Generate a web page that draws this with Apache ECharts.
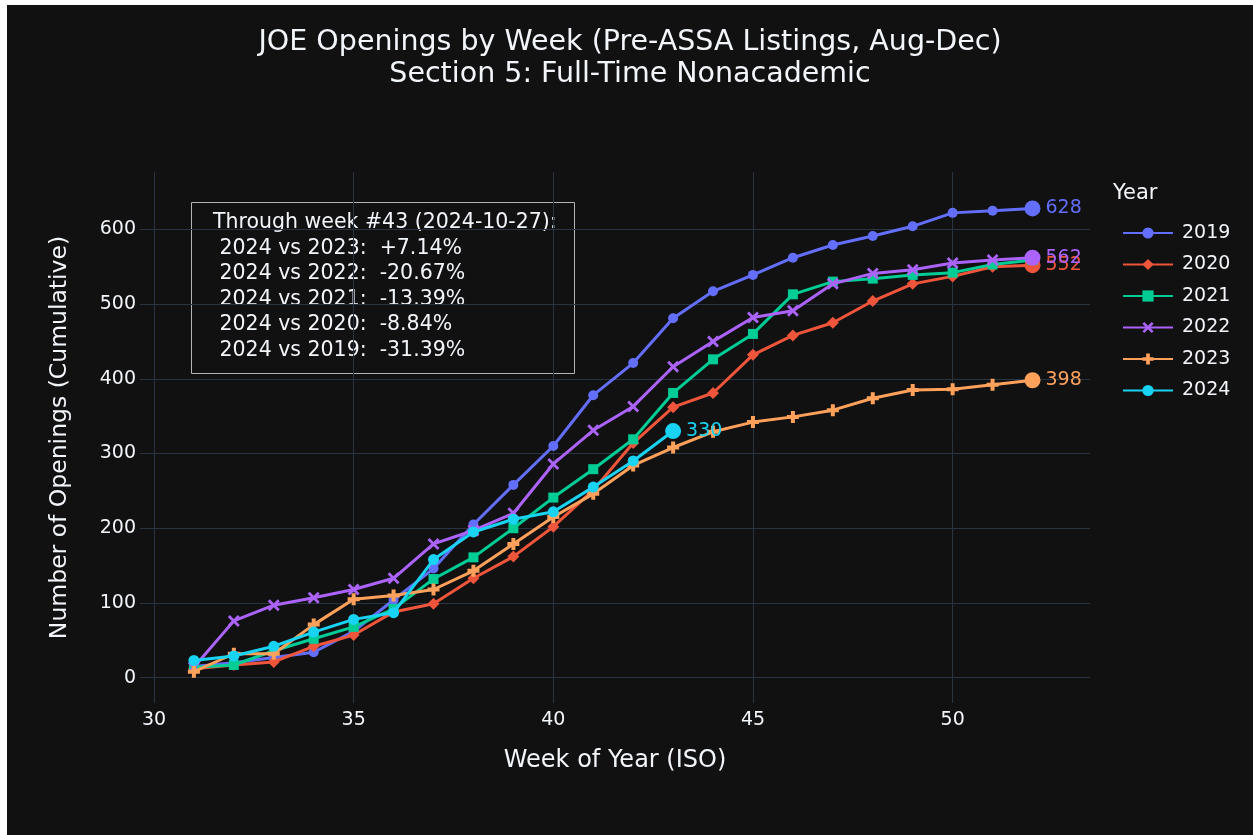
<!DOCTYPE html>
<html>
<head>
<meta charset="utf-8">
<script src="https://cdn.jsdelivr.net/npm/echarts@6/dist/echarts.min.js"></script>
<style>
    html, body { margin: 0; padding: 0; background: #ffffff; }
    #chart { position: absolute; left: 7px; top: 5px; width: 1246px; height: 830px; background: #111111; }
</style>
</head>
<body>
<div id="chart"></div>
<script>
    // weeks shown on the x axis
    const weeks = [31, 32, 33, 34, 35, 36, 37, 38, 39, 40, 41, 42, 43, 44, 45, 46, 47, 48, 49, 50, 51, 52]
    const years = ['2019', '2020', '2021', '2022', '2023', '2024']

    // cumulative openings per week
    const y2019 = [15, 20, 27, 34, 62, 104, 146, 205, 258, 310, 378, 421, 481, 517, 539, 562, 579, 591, 604, 622, 625, 628]
    const y2020 = [12, 17, 21, 42, 57, 88, 99, 133, 162, 202, 251, 314, 362, 381, 432, 458, 475, 504, 527, 537, 550, 552]
    const y2021 = [14, 17, 36, 52, 68, 92, 132, 161, 200, 241, 279, 319, 381, 426, 460, 513, 530, 534, 539, 542, 553, 559]
    const y2022 = [14, 76, 97, 107, 118, 133, 179, 197, 220, 286, 331, 363, 416, 450, 482, 491, 527, 541, 546, 555, 559, 562]
    const y2023 = [8, 32, 32, 71, 105, 110, 118, 143, 179, 215, 246, 284, 308, 329, 342, 349, 358, 374, 385, 386, 392, 398]
    const y2024 = [23, 29, 42, 61, 78, 87, 158, 195, 212, 222, 255, 290, 330]

    // years that get a big end marker + value label
    const labelled = ['2019', '2020', '2022', '2023', '2024']

    const xTicks = [30, 35, 40, 45, 50]
    const yTicks = [0, 100, 200, 300, 400, 500, 600]
    const throughWeek = 43
    const throughDate = '2024-10-27'

    const colors = ['#636efa', '#EF553B', '#00cc96', '#ab63fa', '#FFA15A', '#19d3f3']
    const textColor = '#f2f5fa'
    const gridColor = '#283442'
    const font = 'DejaVu Sans'

    const xPath = 'path://M-2,-3L0,-1L2,-3L3,-2L1,0L3,2L2,3L0,1L-2,3L-3,2L-1,0L-3,-2Z'
    const crossPath = 'path://M-1,-3H1V-1H3V1H1V3H-1V1H-3V-1H-1Z'
    const symbols = [
        { symbol: 'circle', size: 10 },
        { symbol: 'diamond', size: 12 },
        { symbol: 'rect', size: 10 },
        { symbol: xPath, size: 12 },
        { symbol: crossPath, size: 12 },
        { symbol: 'circle', size: 11 }
    ]
    const values = [y2019, y2020, y2021, y2022, y2023, y2024]

    const buildData = (vals, i) => vals.map((v, k) => {
        const item = { value: [weeks[k], v] }
        if (k === vals.length - 1 && labelled.includes(years[i])) {
            item.symbol = 'circle'
            item.symbolSize = 16
            item.label = {
                show: true,
                position: 'right',
                distance: 5,
                color: colors[i],
                fontFamily: font,
                fontSize: 19,
                formatter: String(v)
            }
        }
        return item
    })

    const series = years.map((y, i) => ({
        name: y,
        type: 'line',
        z: 2 + i,
        data: buildData(values[i], i),
        color: colors[i],
        symbol: symbols[i].symbol,
        symbolSize: symbols[i].size,
        showAllSymbol: true,
        lineStyle: { width: 3 },
        emphasis: { disabled: true }
    }))

    // annotation text built from the week-43 values
    const idx = weeks.indexOf(throughWeek)
    const cur = y2024[idx]
    const pctLines = [4, 3, 2, 1, 0].map(i => {
        const p = (cur / values[i][idx] - 1) * 100
        const s = (p >= 0 ? '+' : '') + p.toFixed(2) + '%'
        return ' 2024 vs ' + years[i] + ':  ' + s
    })
    const noteText = ['Through week #' + throughWeek + ' (' + throughDate + '):'].concat(pctLines).join('\n')

    const titleStyle = {
        color: textColor,
        fontFamily: font,
        fontSize: 28.5,
        fontWeight: 'normal'
    }

    const myChart = echarts.init(document.getElementById('chart'))
    const option = {
        backgroundColor: '#111111',
        animation: false,
        textStyle: { fontFamily: font, color: textColor },
        title: [
            { text: 'JOE Openings by Week (Pre-ASSA Listings, Aug-Dec)', left: 'center', top: 18, textStyle: titleStyle },
            { text: 'Section 5: Full-Time Nonacademic', left: 'center', top: 50, textStyle: titleStyle }
        ],
        grid: {
            left: 133,
            right: 163,
            top: 167,
            bottom: 132
        },
        legend: {
            orient: 'vertical',
            left: 1110,
            top: 213,
            itemWidth: 50,
            itemHeight: 14,
            itemGap: 11.5,
            data: years,
            textStyle: {
                color: textColor,
                fontFamily: font,
                fontSize: 19,
                lineHeight: 20,
                padding: [0, 0, 0, 4]
            }
        },
        xAxis: {
            type: 'value',
            min: 29.65,
            max: 53.44,
            name: 'Week of Year (ISO)',
            nameLocation: 'middle',
            nameGap: 46,
            nameTextStyle: { color: textColor, fontFamily: font, fontSize: 24 },
            axisLine: { show: false },
            axisTick: { show: false, customValues: xTicks },
            axisLabel: { customValues: xTicks, color: textColor, fontFamily: font, fontSize: 19, margin: 8 },
            splitLine: { show: true, lineStyle: { color: gridColor, width: 1 } }
        },
        yAxis: {
            type: 'value',
            min: -33.9,
            max: 676.7,
            name: 'Number of Openings (Cumulative)',
            nameLocation: 'middle',
            nameGap: 68,
            nameTextStyle: { color: textColor, fontFamily: font, fontSize: 23.5 },
            axisLine: { show: false },
            axisTick: { show: false, customValues: yTicks },
            axisLabel: { customValues: yTicks, color: textColor, fontFamily: font, fontSize: 19, margin: 4 },
            splitLine: { show: true, lineStyle: { color: gridColor, width: 1 } }
        },
        graphic: [
            {
                type: 'text',
                left: 1106,
                top: 178,
                style: { text: 'Year', fill: textColor, font: '21px "DejaVu Sans"' }
            },
            {
                type: 'rect',
                left: 182,
                top: 195,
                shape: { width: 383, height: 171 },
                style: { fill: 'none', stroke: '#b4b4b4', lineWidth: 1 }
            },
            {
                type: 'text',
                left: 206,
                top: 205,
                style: {
                    text: noteText,
                    fill: textColor,
                    font: '20.5px "DejaVu Sans"',
                    lineHeight: 25.5
                }
            }
        ],
        series: series
    }
    myChart.setOption(option)
</script>
</body>
</html>
